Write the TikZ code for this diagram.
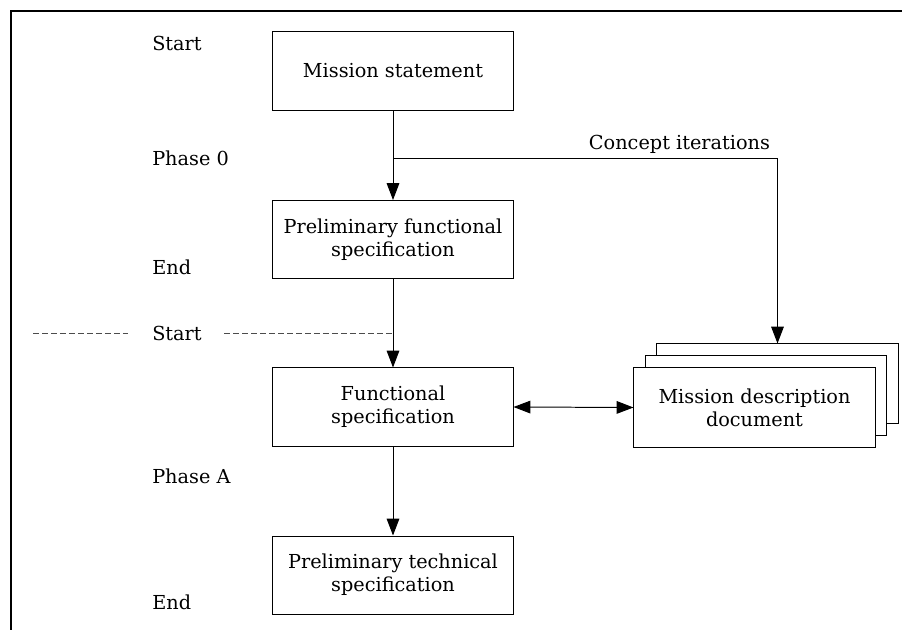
\documentclass[tikz,border=0pt]{standalone}
\usepackage{fontspec}
\setmainfont{DejaVu Serif}
\usetikzlibrary{arrows.meta,calc}
\begin{document}
\begin{tikzpicture}[x=0.025cm,y=-0.025cm,
  font=\fontsize{13.7}{16.5}\selectfont,
  stepbox/.style={draw, line width=0.7pt, minimum width=6cm, minimum height=1.95cm,
    align=center, inner sep=2pt, fill=white},
  docbox/.style={draw, line width=0.7pt, minimum width=6.025cm, minimum height=1.975cm,
    align=center, inner sep=2pt, fill=white},
  phase/.style={anchor=west, inner sep=0pt},
  flow/.style={line width=0.7pt, -{Triangle[length=12pt,width=9pt]}},
  twoway/.style={line width=0.7pt, {Triangle[length=12pt,width=9pt]}-{Triangle[length=12pt,width=9pt]}},
  sep/.style={draw=black!70, line width=0.5pt, dash pattern=on 4.2pt off 2.2pt},
  frame/.style={line width=1.6pt}]
\useasboundingbox (0,0) rectangle (902,630);

% outer frame (top and left edges)
\draw[frame] (11,630) -- (11,11) -- (902,11);

% phase labels
\node[phase] (s0) at (152,43) {Start};
\node[phase] (p0) at (152,158) {Phase 0};
\node[phase] (e0) at (152,267) {End};
\node[phase] (sA) at (152,333) {Start};
\node[phase] (pA) at (152,476) {Phase A};
\node[phase] (eA) at (152,602) {End};

% main chain of specifications
\node[stepbox] (ms) at (393,71) {Mission statement};
\node[stepbox] (pfs) at (393,239.5) {Preliminary functional\\specification};
\node[stepbox] (fs) at (393,407) {Functional\\specification};
\node[stepbox] (pts) at (393,575) {Preliminary technical\\specification};

% stack of mission description documents
\node[docbox] (mdd3) at (777.5,383.5) {};
\node[docbox] (mdd2) at (766,395.5) {};
\node[docbox] (mdd) at (754.5,407.5) {Mission description\\document};

% phase boundary
\coordinate (sepL) at (33,333);
\coordinate (sepLe) at (128,333);
\coordinate (sepR) at (224,333);
\draw[sep] (sepL) -- (sepLe);
\draw[sep] (sepR) -- (sepR -| pfs.south);

% connectors
\draw[flow] (ms.south) -- (pfs.north);
\coordinate (branch) at (ms.south |- 0,158);
\coordinate (turn) at (mdd3.north |- branch);
\draw[flow] (branch) -- (turn) -- (mdd3.north);
\node[anchor=south, inner sep=3pt] (ci) at ($(branch)!0.745!(turn)$) {Concept iterations};
\draw[flow] (pfs.south) -- (fs.north);
\draw[flow] (fs.south) -- (pts.north);
\draw[twoway] (fs.east) -- (mdd.west);
\end{tikzpicture}
\end{document}
